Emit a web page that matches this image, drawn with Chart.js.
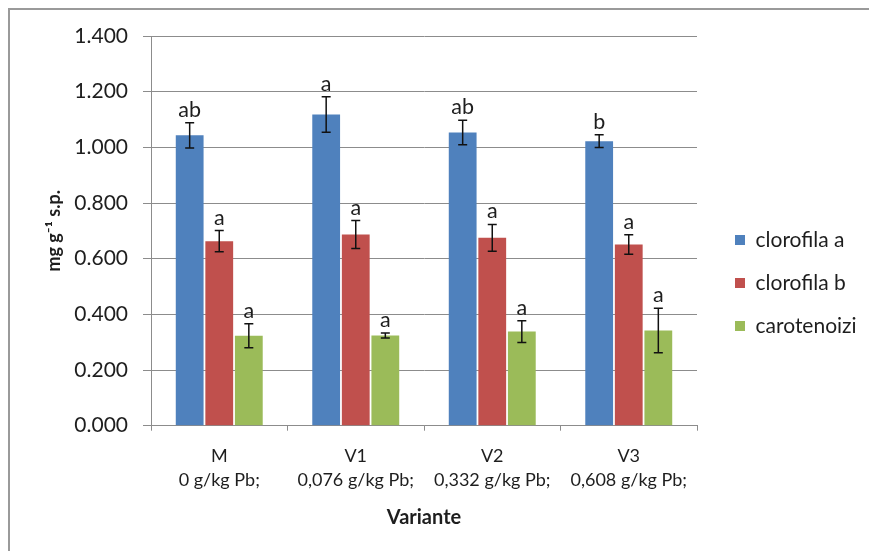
<!DOCTYPE html>
<html>
<head>
<meta charset="utf-8">
<script src="https://cdn.jsdelivr.net/npm/chart.js@4"></script>
<style>
  html, body { margin: 0; padding: 0; background: #fff; width: 869px; height: 551px; overflow: hidden; }
  #frame { position: absolute; left: 8px; top: 8px; width: 900px; height: 600px; border: 2px solid #9a9a9a; box-sizing: border-box; }
  #wrap { position: absolute; left: 0; top: 0; width: 869px; height: 551px; }
</style>
</head>
<body>
<div id="frame"></div>
<div id="wrap"><canvas id="c" width="869" height="551"></canvas></div>
<script>
// Variants and lead doses (x axis)
const variants = ['M', 'V1', 'V2', 'V3'];
const doses = ['0 g/kg Pb;', '0,076 g/kg Pb;', '0,332 g/kg Pb;', '0,608 g/kg Pb;'];

// Pigment content, mg g-1 s.p.
const seriesNames = ['clorofila a', 'clorofila b', 'carotenoizi'];
const clorofilaA = [1.043, 1.118, 1.053, 1.022];
const clorofilaB = [0.663, 0.687, 0.675, 0.651];
const carotenoizi = [0.323, 0.324, 0.338, 0.342];

// Error bar half-lengths
const clorofilaAErr = [0.045, 0.064, 0.044, 0.023];
const clorofilaBErr = [0.038, 0.050, 0.048, 0.035];
const carotenoiziErr = [0.043, 0.009, 0.039, 0.080];

// Significance letters above each bar
const clorofilaALetters = ['ab', 'a', 'ab', 'b'];
const clorofilaBLetters = ['a', 'a', 'a', 'a'];
const carotenoiziLetters = ['a', 'a', 'a', 'a'];

// Axis range
const yMin = 0, yMax = 1.4, yStep = 0.2;

const colors = ['#4F81BD', '#C0504D', '#9BBB59'];
const FONT = 'Lato, "Open Sans", sans-serif';
const TEXT = '#1e1e1e';
const GRID = '#8c8c8c';

const labels = variants.map((v, i) => [v, doses[i]]);
const values = [clorofilaA, clorofilaB, carotenoizi];
const errors = [clorofilaAErr, clorofilaBErr, carotenoiziErr];
const letters = [clorofilaALetters, clorofilaBLetters, carotenoiziLetters];

// Error bars with caps and the letter above each
const errorBars = {
  id: 'errorBars',
  afterDatasetsDraw(chart) {
    const ctx = chart.ctx;
    const y = chart.scales.y;
    ctx.save();
    chart.data.datasets.forEach((ds, di) => {
      const meta = chart.getDatasetMeta(di);
      meta.data.forEach((bar, j) => {
        const v = values[di][j], e = errors[di][j];
        const yt = y.getPixelForValue(v + e);
        const yb = y.getPixelForValue(v - e);
        const x = bar.x;
        ctx.strokeStyle = '#111';
        ctx.lineWidth = 1.5;
        ctx.beginPath();
        ctx.moveTo(x, yt); ctx.lineTo(x, yb);
        ctx.moveTo(x - 4.5, yt); ctx.lineTo(x + 4.5, yt);
        ctx.moveTo(x - 4.5, yb); ctx.lineTo(x + 4.5, yb);
        ctx.stroke();
        ctx.fillStyle = TEXT;
        ctx.font = '21.5px ' + FONT;
        ctx.textAlign = 'center';
        ctx.textBaseline = 'alphabetic';
        ctx.fillText(letters[di][j], x, yt - 6);
      });
    });
    ctx.restore();
  }
};

// Legend box: fixed width, items placed to the right of the plot
const legendPlace = {
  id: 'legendPlace',
  beforeLayout(chart) {
    const lg = chart.legend;
    if (lg && !lg.__fixed) {
      const fit = lg.fit;
      lg.fit = function () { fit.call(this); this.width = 172; };
      lg.__fixed = true;
    }
  },
  afterLayout(chart) {
    const lg = chart.legend;
    if (!lg) return;
    lg.left = 713; lg.right = 869;
    lg.top = 207.5; lg.bottom = 551;
  }
};

new Chart(document.getElementById('c'), {
  type: 'bar',
  data: {
    labels: labels,
    datasets: seriesNames.map((name, i) => ({
      label: name,
      data: values[i],
      backgroundColor: colors[i],
      borderWidth: 0,
      categoryPercentage: 0.65,
      barPercentage: 0.94
    }))
  },
  options: {
    responsive: false,
    animation: false,
    layout: { padding: { left: 40, right: 0, top: 36, bottom: 19 } },
    plugins: {
      tooltip: { enabled: false },
      legend: {
        position: 'right',
        align: 'start',
        labels: {
          boxWidth: 10,
          boxHeight: 10,
          padding: 22,
          color: TEXT,
          font: { family: FONT, size: 21 }
        }
      }
    },
    scales: {
      x: {
        afterFit(s) { s.height = 106.3; },
        grid: { display: true, drawOnChartArea: false, drawTicks: true, tickLength: 5, color: GRID, offset: true },
        border: { display: true, color: GRID, width: 1 },
        ticks: { color: TEXT, padding: 13, font: { family: FONT, size: 18, lineHeight: 1.35 }, maxRotation: 0, autoSkip: false },
        title: { display: true, text: 'Variante', color: TEXT, padding: { top: 0, bottom: 2 }, font: { family: FONT, size: 20, weight: 'bold', lineHeight: 1.2 } }
      },
      y: {
        min: yMin,
        max: yMax,
        afterFit(s) { s.width = 111; },
        grid: { color: GRID, lineWidth: 1, tickLength: 8, drawTicks: true },
        border: { display: true, color: GRID, width: 1 },
        ticks: {
          stepSize: yStep,
          padding: 15,
          color: TEXT,
          font: { family: FONT, size: 21 },
          callback: (v) => Number(v).toFixed(3)
        },
        title: { display: true, text: 'mg g\u207B\u00B9 s.p.', color: TEXT, padding: { top: 3, bottom: 0 }, font: { family: FONT, size: 18, weight: 'bold', lineHeight: 1.2 } }
      }
    }
  },
  plugins: [errorBars, legendPlace]
});
</script>
</body>
</html>
